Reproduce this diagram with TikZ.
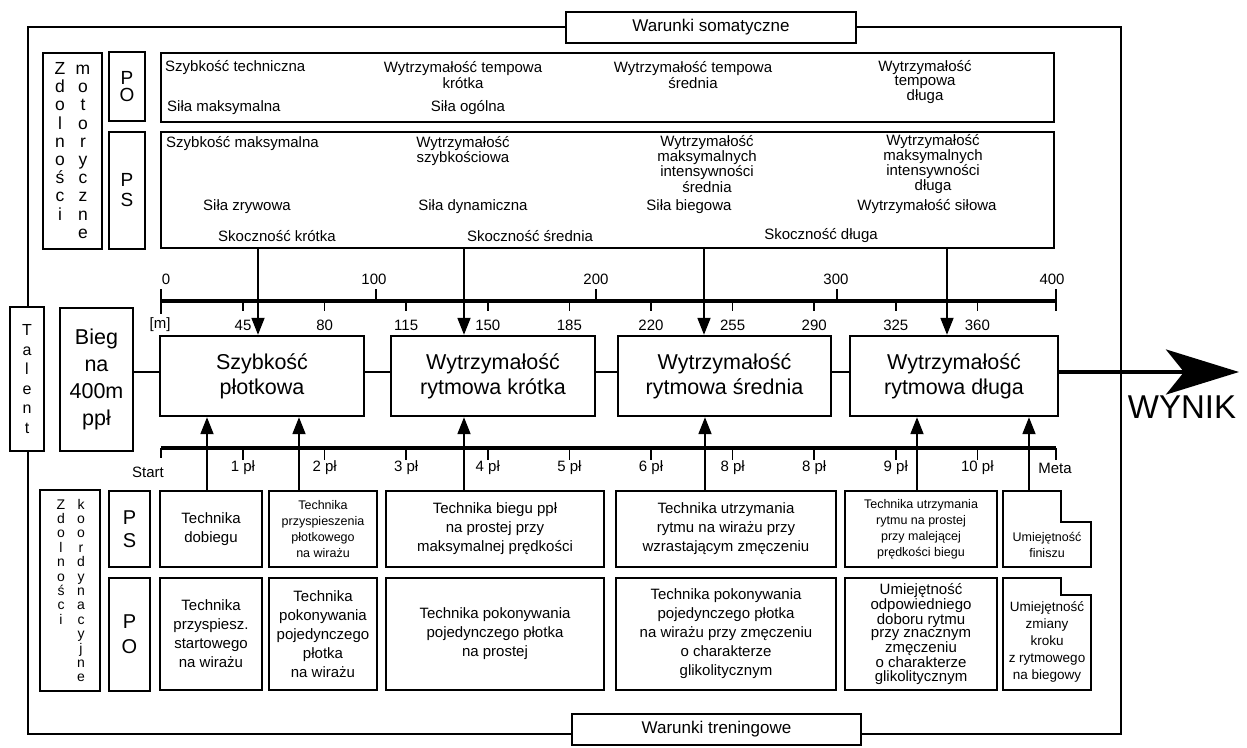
\documentclass[tikz,border=0pt]{standalone}
\usepackage{fontspec}
\setmainfont{Liberation Sans}
\usetikzlibrary{arrows.meta}
\tikzset{%
  fnt/.style 2 args={font={\fontsize{#1}{#2}\selectfont}},
  box/.style={draw,line width=2.4pt,fill=white,align=center,inner sep=0pt},
  lab/.style={fnt={15}{13.5},align=center,inner sep=0pt},
  main/.style={fnt={21.5}{25}},
  vlet/.style={anchor=base,inner sep=0pt},
  frame/.style={line width=2pt},
  axis/.style={line width=4.5pt},
  tick/.style={line width=1.6pt},
  link/.style={line width=1.6pt},
  arr/.style={line width=1.8pt,-{Triangle[length=17pt,width=13pt]}},
  big/.style={line width=4pt,-{Stealth[length=73pt,width=45pt,inset=18pt]}}
}
\NewDocumentCommand\blk{O{}mmmmmm}{%
  \node[box,#1,minimum width={#5-#3},minimum height={#6-#4}] (#2) at ({(#3+#5)/2},{(#4+#6)/2}) {#7};
}
\begin{document}
\begin{tikzpicture}[x=1pt,y=-1pt]
  \useasboundingbox (0,0) rectangle (1247,747);
  \draw[frame] (28,27) rectangle (1121,734);
  \blk[fnt={17}{20}]{som}{566}{12}{856}{43}{Warunki somatyczne}
  \blk[fnt={17}{20}]{tre}{572}{714}{861}{745}{Warunki treningowe}
  \blk[fnt={16}{19.5},line width=2pt]{tal}{10}{307}{44}{451}{T\\a\\l\\e\\n\\t}
  %% zdolnosci motoryczne
  \blk{zmot}{43}{53}{102}{249}{}
  \foreach \c [count=\i from 0] in {Z,d,o,l,n,o,ś,c,i}
    \node[vlet,fnt={17.5}{17}] (zl\i) at (60,{74.5+\i*18.2}) {\c};
  \foreach \c [count=\i from 0] in {m,o,t,o,r,y,c,z,n,e}
    \node[vlet,fnt={17.5}{17}] (zr\i) at (83,{74.5+\i*18.2}) {\c};
  \blk[fnt={19}{17.5}]{po1}{109}{52}{145}{121}{P\\O}
  \blk[fnt={19}{20}]{ps1}{109}{132}{145}{249}{P\\S}
  \blk{pob}{161}{53}{1054}{122}{}
  \blk{psb}{161}{132}{1054}{248}{}
  \node[lab,anchor=west] (st) at (165,68) {Szybkość techniczna};
  \node[lab,anchor=west] (sm) at (167,108) {Siła maksymalna};
  \node[lab] (wtk) at (463,75) {Wytrzymałość tempowa\\krótka};
  \node[lab] (so) at (468,108) {Siła ogólna};
  \node[lab] (wts) at (693,75) {Wytrzymałość tempowa\\średnia};
  \node[lab] (wtd) at (925,82) {Wytrzymałość\\tempowa\\długa};
  %%
  \node[lab,anchor=west] (smx) at (166,144) {Szybkość maksymalna};
  \node[lab] (wsz) at (463,151) {Wytrzymałość\\szybkościowa};
  \node[lab] (wms) at (707,164) {Wytrzymałość\\maksymalnych\\intensywności\\średnia};
  \node[lab] (wmd) at (933,164) {Wytrzymałość\\maksymalnych\\intensywności\\długa};
  \node[lab] (szr) at (247,207) {Siła zrywowa};
  \node[lab] (sdy) at (473,207) {Siła dynamiczna};
  \node[lab] (sbi) at (689,207) {Siła biegowa};
  \node[lab] (wsi) at (927,207) {Wytrzymałość siłowa};
  \node[lab] (skk) at (277,236) {Skoczność krótka};
  \node[lab] (sks) at (530,236) {Skoczność średnia};
  \node[lab] (skd) at (821,236) {Skoczność długa};
  %% os metrow
  \coordinate (a0) at (161,301);
  \coordinate (a4) at (1056,301);
  \draw[axis] (a0) -- (a4);
  \foreach \x/\t/\l in {161/166/0,376/374/100,596/596/200,837/836/300,1056/1052/400}{
    \draw[tick] (\x,289) -- (\x,301);
    \node[lab] (mj\l) at (\t,279) {\l};
  }
  \draw[tick] (a0) -- ++(0,13);
  \draw[tick] (a4) -- ++(0,10);
  \foreach \l [count=\i from 0] in {45,80,115,150,185,220,255,290,325,360}{
    \draw[tick] ({243+\i*81.6},301) -- ++(0,10);
    \node[lab] (mn\i) at ({243+\i*81.6},325) {\l};
  }
  \node[lab] (unit) at (160,325) {[m]};
  %% glowne bloki
  \blk[fnt={21.5}{27}]{bieg}{60}{308}{133}{451}{Bieg\\na\\400m\\ppł}
  \blk[main]{szyb}{160}{336}{364}{416}{Szybkość\\płotkowa}
  \blk[main]{wrk}{391}{336}{595}{416}{Wytrzymałość\\rytmowa krótka}
  \blk[main]{wrs}{618}{336}{831}{416}{Wytrzymałość\\rytmowa średnia}
  \blk[main]{wrd}{850}{336}{1058}{416}{Wytrzymałość\\rytmowa długa}
  \coordinate (mid) at (0,372);
  \draw[link] (bieg.east |- mid) -- (szyb.west |- mid);
  \draw[link] (szyb.east |- mid) -- (wrk.west |- mid);
  \draw[link] (wrk.east |- mid) -- (wrs.west |- mid);
  \draw[link] (wrs.east |- mid) -- (wrd.west |- mid);
  \coordinate (tip) at (1239,372);
  \draw[big] (wrd.east |- mid) -- (tip);
  \node[fnt={33}{33},inner sep=0pt] (wynik) at (1182,407) {WYNIK};
  %%
  \coordinate (d1) at (258,0);
  \coordinate (d2) at (464,0);
  \coordinate (d3) at (704,0);
  \coordinate (d4) at (947,0);
  \draw[arr] (psb.south -| d1) -- (szyb.north -| d1);
  \draw[arr] (psb.south -| d2) -- (wrk.north -| d2);
  \draw[arr] (psb.south -| d3) -- (wrs.north -| d3);
  \draw[arr] (psb.south -| d4) -- (wrd.north -| d4);
  %% os plotkow
  \coordinate (b0) at (161,448);
  \coordinate (b4) at (1056,448);
  \draw[axis] (b0) -- (b4);
  \draw[tick] (b0) -- ++(0,10);
  \draw[tick] (b4) -- ++(0,12);
  \node[lab] (start) at (148,472) {Start};
  \node[lab] (meta) at (1055,468) {Meta};
  \foreach \l [count=\i from 0] in {1 pł,2 pł,3 pł,4 pł,5 pł,6 pł,8 pł,8 pł,9 pł,10 pł}{
    \draw[tick] ({243+\i*81.6},448) -- ++(0,12);
    \node[lab] (pl\i) at ({243+\i*81.6},468) {\l};
  }
  %% zdolnosci koordynacyjne
  \blk{zkoo}{40}{490}{100}{691}{}
  \foreach \c [count=\i from 0] in {Z,d,o,l,n,o,ś,c,i}
    \node[vlet,fnt={14}{14}] (kl\i) at (61,{509+\i*14.4}) {\c};
  \foreach \c [count=\i from 0] in {k,o,o,r,d,y,n,a,c,y,j,n,e}
    \node[vlet,fnt={14}{14}] (kr\i) at (81,{509+\i*14.4}) {\c};
  \blk[fnt={20}{23}]{ps2}{109}{491}{150}{567}{P\\S}
  \blk[fnt={20}{25}]{po2}{109}{578}{150}{691}{P\\O}
  %%
  \blk[fnt={15}{19}]{tdob}{160}{491}{262}{567}{Technika\\dobiegu}
  \blk[fnt={12.5}{16}]{tprz}{269}{491}{377}{567}{Technika\\przyspieszenia\\płotkowego\\na wirażu}
  \blk[fnt={15}{19}]{tbp}{386}{491}{604}{567}{Technika biegu ppł\\na prostej przy\\maksymalnej prędkości}
  \blk[fnt={15}{19}]{tur}{616}{491}{836}{567}{Technika utrzymania\\rytmu na wirażu przy\\wzrastającym zmęczeniu}
  \blk[fnt={12.5}{16}]{turp}{845}{491}{997}{567}{Technika utrzymania\\rytmu na prostej\\przy malejącej\\prędkości biegu}
  \node[inner sep=0pt,minimum width=88,minimum height=76] (fin) at (1047,529) {};
  \draw[line width=2.4pt] (fin.north west) -- ++(58,0) -- ++(0,31) -| (fin.south east) -- (fin.south west) -- cycle;
  \node[lab,fnt={12.5}{16}] (fint) at (1047,545) {Umiejętność\\finiszu};
  %%
  \blk[fnt={15}{19}]{tps}{160}{578}{262}{690}{Technika\\przyspiesz.\\startowego\\na wirażu}
  \blk[fnt={15}{19}]{tpw}{269}{578}{377}{690}{Technika\\pokonywania\\pojedynczego\\płotka\\na wirażu}
  \blk[fnt={15}{19}]{tpp}{386}{578}{604}{690}{Technika pokonywania\\pojedynczego płotka\\na prostej}
  \blk[fnt={15}{19}]{tpz}{616}{578}{836}{690}{Technika pokonywania\\pojedynczego płotka\\na wirażu przy zmęczeniu\\o charakterze\\glikolitycznym}
  \blk[fnt={15}{13.3}]{udr}{845}{578}{997}{690}{Umiejętność\\odpowiedniego\\doboru rytmu\\przy znacznym\\zmęczeniu\\o charakterze\\glikolitycznym}
  \node[inner sep=0pt,minimum width=88,minimum height=112] (zmk) at (1047,634) {};
  \draw[line width=2.4pt] (zmk.north west) -- ++(58,0) -- ++(0,17) -| (zmk.south east) -- (zmk.south west) -- cycle;
  \node[lab,fnt={13.5}{17}] (zmkt) at (1047,642) {Umiejętność\\zmiany\\kroku\\z rytmowego\\na biegowy};
  %%
  \coordinate (u1) at (207,0);
  \coordinate (u2) at (299,0);
  \coordinate (u3) at (464,0);
  \coordinate (u4) at (705,0);
  \coordinate (u5) at (917,0);
  \coordinate (u6) at (1029,0);
  \draw[arr] (tdob.north -| u1) -- (szyb.south -| u1);
  \draw[arr] (tprz.north -| u2) -- (szyb.south -| u2);
  \draw[arr] (tbp.north -| u3) -- (wrk.south -| u3);
  \draw[arr] (tur.north -| u4) -- (wrs.south -| u4);
  \draw[arr] (turp.north -| u5) -- (wrd.south -| u5);
  \draw[arr] (fin.north -| u6) -- (wrd.south -| u6);
\end{tikzpicture}
\end{document}
